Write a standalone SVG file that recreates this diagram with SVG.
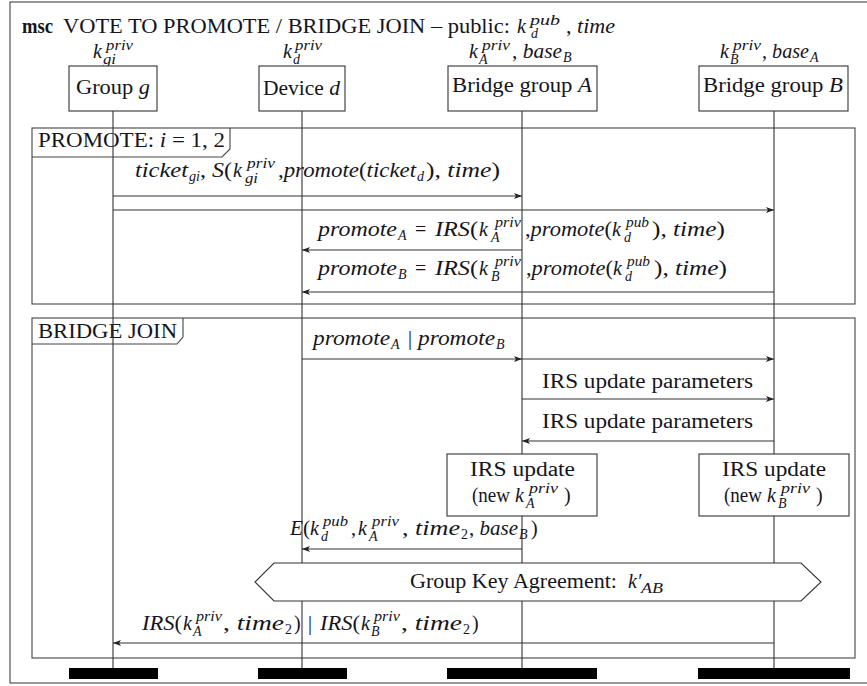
<svg xmlns="http://www.w3.org/2000/svg" width="867" height="686" viewBox="0 0 867 686">
<defs>
<style>
.t{font-family:"Liberation Serif","DejaVu Serif",serif;font-size:20px;fill:#151520}
.i{font-style:italic}
.s{font-size:14px}
.ln{stroke:#333;stroke-width:1.1;fill:none}
.bx{stroke:#333;stroke-width:1.1;fill:#fff}
.fr{stroke:#444;stroke-width:1.1;fill:none}
.bar{fill:#000}
</style>
<marker id="ah" viewBox="0 0 10 10" refX="10" refY="5" markerWidth="8" markerHeight="8" markerUnits="userSpaceOnUse" orient="auto">
<path d="M0,1.3 L10,5 L0,8.7 L2.5,5 Z" fill="#222"/>
</marker>
</defs>
<rect width="867" height="686" fill="#fff"/>

<g id="frame">
<rect class="fr" x="10" y="2" width="870" height="681"/>
<text class="t" x="22" y="33" font-weight="bold" font-size="16" textLength="31" lengthAdjust="spacingAndGlyphs">msc</text>
<text class="t" x="63" y="33" textLength="447" lengthAdjust="spacingAndGlyphs">VOTE TO PROMOTE / BRIDGE JOIN – public:</text>
<text class="t i" x="517" y="33">k</text>
<text class="t i s" x="530" y="25" textLength="30" lengthAdjust="spacingAndGlyphs">pub</text>
<text class="t i s" x="531" y="38">d</text>
<text class="t" x="566" y="33" textLength="49" lengthAdjust="spacingAndGlyphs">, <tspan class="i">time</tspan></text>
</g>

<g id="block-promote">
<rect class="fr" x="32" y="128" width="823" height="176"/>
<path class="fr" d="M32,157 H222 L230,149 V128"/>
<text class="t" x="38" y="147" textLength="187" lengthAdjust="spacingAndGlyphs">PROMOTE: <tspan class="i">i</tspan> = 1, 2</text>
</g>

<g id="block-bridge-join">
<rect class="fr" x="32" y="318" width="823" height="340"/>
<path class="fr" d="M32,344 H177 L183,337 V318"/>
<text class="t" x="38" y="338" textLength="139" lengthAdjust="spacingAndGlyphs">BRIDGE JOIN</text>
</g>

<g id="lifelines">
<path class="ln" d="M113,111 V668 M302,111 V668 M522,111 V668 M774,111 V668"/>
</g>

<g id="connectors">
<path class="ln" marker-end="url(#ah)" d="M113,196 H522"/>
<path class="ln" marker-end="url(#ah)" d="M113,210 H774"/>
<path class="ln" marker-end="url(#ah)" d="M522,250 H302"/>
<path class="ln" marker-end="url(#ah)" d="M774,292 H302"/>
<path class="ln" marker-end="url(#ah)" d="M302,359 H522"/>
<path class="ln" marker-end="url(#ah)" d="M522,359 H774"/>
<path class="ln" marker-end="url(#ah)" d="M522,399 H774"/>
<path class="ln" marker-end="url(#ah)" d="M774,441 H522"/>
<path class="ln" marker-end="url(#ah)" d="M522,549 H302"/>
<path class="ln" marker-end="url(#ah)" d="M774,643 H113"/>

<g id="lbl-ticket">
<text class="t i" x="135" y="177" textLength="53" lengthAdjust="spacingAndGlyphs">ticket</text>
<text class="t i s" x="189" y="181" textLength="11" lengthAdjust="spacingAndGlyphs">gi</text>
<text class="t" x="200" y="177" textLength="32" lengthAdjust="spacingAndGlyphs">, <tspan class="i">S</tspan>(</text>
<text class="t i" x="233" y="177">k</text>
<text class="t i s" x="247" y="168" textLength="28" lengthAdjust="spacingAndGlyphs">priv</text>
<text class="t i s" x="245" y="183" textLength="13" lengthAdjust="spacingAndGlyphs">gi</text>
<text class="t" x="278" y="177" textLength="138" lengthAdjust="spacingAndGlyphs">,<tspan class="i">promote</tspan>(<tspan class="i">ticket</tspan></text>
<text class="t i s" x="417" y="181">d</text>
<text class="t" x="426" y="177" textLength="74" lengthAdjust="spacingAndGlyphs">), <tspan class="i">time</tspan>)</text>
</g>

<g id="lbl-promoteA">
<text class="t i" x="318" y="236" textLength="79" lengthAdjust="spacingAndGlyphs">promote</text>
<text class="t i s" x="398" y="240">A</text>
<text class="t" x="415" y="236">=</text>
<text class="t" x="435" y="236" textLength="43" lengthAdjust="spacingAndGlyphs"><tspan class="i">IRS</tspan>(</text>
<text class="t i" x="479" y="236">k</text>
<text class="t i s" x="495" y="227" textLength="26" lengthAdjust="spacingAndGlyphs">priv</text>
<text class="t i s" x="491" y="242">A</text>
<text class="t" x="525" y="236" textLength="87" lengthAdjust="spacingAndGlyphs">,<tspan class="i">promote</tspan>(</text>
<text class="t i" x="612" y="236">k</text>
<text class="t i s" x="626" y="227" textLength="23" lengthAdjust="spacingAndGlyphs">pub</text>
<text class="t i s" x="624" y="242">d</text>
<text class="t" x="652" y="236" textLength="73" lengthAdjust="spacingAndGlyphs">), <tspan class="i">time</tspan>)</text>
</g>

<g id="lbl-promoteB">
<text class="t i" x="318" y="275" textLength="79" lengthAdjust="spacingAndGlyphs">promote</text>
<text class="t i s" x="398" y="279">B</text>
<text class="t" x="415" y="275">=</text>
<text class="t" x="435" y="275" textLength="43" lengthAdjust="spacingAndGlyphs"><tspan class="i">IRS</tspan>(</text>
<text class="t i" x="479" y="275">k</text>
<text class="t i s" x="495" y="266" textLength="26" lengthAdjust="spacingAndGlyphs">priv</text>
<text class="t i s" x="491" y="281">B</text>
<text class="t" x="526" y="275" textLength="87" lengthAdjust="spacingAndGlyphs">,<tspan class="i">promote</tspan>(</text>
<text class="t i" x="613" y="275">k</text>
<text class="t i s" x="627" y="266" textLength="23" lengthAdjust="spacingAndGlyphs">pub</text>
<text class="t i s" x="625" y="281">d</text>
<text class="t" x="654" y="275" textLength="73" lengthAdjust="spacingAndGlyphs">), <tspan class="i">time</tspan>)</text>
</g>

<g id="lbl-promoteAB">
<text class="t i" x="313" y="345" textLength="77" lengthAdjust="spacingAndGlyphs">promote</text>
<text class="t i s" x="391" y="349">A</text>
<text class="t" x="408" y="345">|</text>
<text class="t i" x="418" y="345" textLength="77" lengthAdjust="spacingAndGlyphs">promote</text>
<text class="t i s" x="496" y="349">B</text>
</g>

<text class="t" x="542" y="388" textLength="211" lengthAdjust="spacingAndGlyphs">IRS update parameters</text>
<text class="t" x="542" y="428" textLength="211" lengthAdjust="spacingAndGlyphs">IRS update parameters</text>

<g id="lbl-E">
<text class="t" x="290" y="535" textLength="20" lengthAdjust="spacingAndGlyphs"><tspan class="i">E</tspan>(</text>
<text class="t i" x="310" y="535">k</text>
<text class="t i s" x="323" y="526" textLength="25" lengthAdjust="spacingAndGlyphs">pub</text>
<text class="t i s" x="321" y="541">d</text>
<text class="t" x="351" y="535">,</text>
<text class="t i" x="358" y="535">k</text>
<text class="t i s" x="372" y="526" textLength="27" lengthAdjust="spacingAndGlyphs">priv</text>
<text class="t i s" x="369" y="541">A</text>
<text class="t" x="402" y="535" textLength="58" lengthAdjust="spacingAndGlyphs">, <tspan class="i">time</tspan></text>
<text class="t s" x="461" y="539">2</text>
<text class="t" x="469" y="535" textLength="49" lengthAdjust="spacingAndGlyphs">, <tspan class="i">base</tspan></text>
<text class="t i s" x="519" y="539">B</text>
<text class="t" x="531" y="535">)</text>
</g>

<g id="lbl-IRS">
<text class="t" x="142" y="630" textLength="40" lengthAdjust="spacingAndGlyphs"><tspan class="i">IRS</tspan>(</text>
<text class="t i" x="183" y="630">k</text>
<text class="t i s" x="196" y="621" textLength="26" lengthAdjust="spacingAndGlyphs">priv</text>
<text class="t i s" x="193" y="636">A</text>
<text class="t" x="223" y="630" textLength="61" lengthAdjust="spacingAndGlyphs">, <tspan class="i">time</tspan></text>
<text class="t s" x="285" y="634">2</text>
<text class="t" x="294" y="630">)</text>
<text class="t" x="308" y="630">|</text>
<text class="t" x="320" y="630" textLength="40" lengthAdjust="spacingAndGlyphs"><tspan class="i">IRS</tspan>(</text>
<text class="t i" x="361" y="630">k</text>
<text class="t i s" x="374" y="621" textLength="26" lengthAdjust="spacingAndGlyphs">priv</text>
<text class="t i s" x="371" y="636">B</text>
<text class="t" x="401" y="630" textLength="61" lengthAdjust="spacingAndGlyphs">, <tspan class="i">time</tspan></text>
<text class="t s" x="463" y="634">2</text>
<text class="t" x="472" y="630">)</text>
</g>
</g>

<g id="gka">
<path class="bx" d="M274,563 H801 L821,582 L801,601 H274 L255,582 Z"/>
<text class="t" x="410" y="588" textLength="207" lengthAdjust="spacingAndGlyphs">Group Key Agreement:</text>
<text class="t i" x="628" y="588">k′</text>
<text class="t i s" x="641" y="593" textLength="22" lengthAdjust="spacingAndGlyphs">AB</text>
</g>

<g id="irs-update-A">
<rect class="bx" x="447" y="454" width="150" height="62"/>
<text class="t" x="470" y="476" textLength="105" lengthAdjust="spacingAndGlyphs">IRS update</text>
<text class="t" x="472" y="502" textLength="38" lengthAdjust="spacingAndGlyphs">(new</text>
<text class="t i" x="515" y="502">k</text>
<text class="t i s" x="529" y="493" textLength="29" lengthAdjust="spacingAndGlyphs">priv</text>
<text class="t i s" x="526" y="508">A</text>
<text class="t" x="564" y="502">)</text>
</g>

<g id="irs-update-B">
<rect class="bx" x="699" y="454" width="150" height="62"/>
<text class="t" x="722" y="476" textLength="104" lengthAdjust="spacingAndGlyphs">IRS update</text>
<text class="t" x="724" y="502" textLength="38" lengthAdjust="spacingAndGlyphs">(new</text>
<text class="t i" x="767" y="502">k</text>
<text class="t i s" x="781" y="493" textLength="29" lengthAdjust="spacingAndGlyphs">priv</text>
<text class="t i s" x="778" y="508">B</text>
<text class="t" x="816" y="502">)</text>
</g>

<g id="group-g">
<text class="t i" x="93" y="58">k</text>
<text class="t i s" x="106" y="50" textLength="27" lengthAdjust="spacingAndGlyphs">priv</text>
<text class="t i s" x="103" y="64" textLength="13" lengthAdjust="spacingAndGlyphs">gi</text>
<rect class="bx" x="69" y="66" width="88" height="45"/>
<text class="t" x="76" y="94" textLength="74" lengthAdjust="spacingAndGlyphs">Group <tspan class="i">g</tspan></text>
<rect class="bar" x="69" y="668" width="89" height="11"/>
</g>

<g id="device-d">
<text class="t i" x="283" y="58">k</text>
<text class="t i s" x="295" y="50" textLength="27" lengthAdjust="spacingAndGlyphs">priv</text>
<text class="t i s" x="293" y="64">d</text>
<rect class="bx" x="259" y="66" width="86" height="45"/>
<text class="t" x="263" y="95" textLength="77" lengthAdjust="spacingAndGlyphs">Device <tspan class="i">d</tspan></text>
<rect class="bar" x="258" y="668" width="89" height="11"/>
</g>

<g id="bridge-A">
<text class="t i" x="469" y="58">k</text>
<text class="t i s" x="482" y="50" textLength="28" lengthAdjust="spacingAndGlyphs">priv</text>
<text class="t i s" x="479" y="64">A</text>
<text class="t" x="512" y="58" textLength="50" lengthAdjust="spacingAndGlyphs">, <tspan class="i">base</tspan></text>
<text class="t i s" x="563" y="62">B</text>
<rect class="bx" x="448" y="66" width="149" height="45"/>
<text class="t" x="452" y="92" textLength="140" lengthAdjust="spacingAndGlyphs">Bridge group <tspan class="i">A</tspan></text>
<rect class="bar" x="447" y="668" width="150" height="11"/>
</g>

<g id="bridge-B">
<text class="t i" x="720" y="58">k</text>
<text class="t i s" x="733" y="50" textLength="28" lengthAdjust="spacingAndGlyphs">priv</text>
<text class="t i s" x="730" y="64">B</text>
<text class="t" x="762" y="58" textLength="47" lengthAdjust="spacingAndGlyphs">, <tspan class="i">base</tspan></text>
<text class="t i s" x="810" y="62">A</text>
<rect class="bx" x="699" y="66" width="149" height="45"/>
<text class="t" x="703" y="92" textLength="140" lengthAdjust="spacingAndGlyphs">Bridge group <tspan class="i">B</tspan></text>
<rect class="bar" x="698" y="668" width="152" height="11"/>
</g>
</svg>
